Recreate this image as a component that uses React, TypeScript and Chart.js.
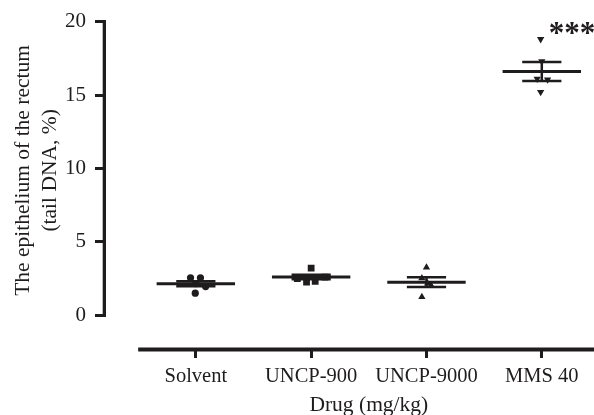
import React, { useEffect, useRef } from "react";
import { Chart, registerables } from "chart.js";

Chart.register(...registerables);

// ---------- data ----------
const categories = ["Solvent", "UNCP-900", "UNCP-9000", "MMS 40"];

const solventValues = [2.55, 2.55, 2.15, 1.95, 1.5];
const solventJitter = [-0.046, 0.04, 0.0, 0.085, -0.005];

const uncp900Values = [3.2, 2.5, 2.25, 2.3, 2.6];
const uncp900Jitter = [0.0, -0.12, -0.04, 0.035, 0.12];

const uncp9000Values = [3.26, 2.52, 2.16, 2.03, 1.24];
const uncp9000Jitter = [0.0, -0.04, 0.01, 0.04, -0.04];

const mms40Values = [18.8, 17.3, 16.1, 16.05, 15.2];
const mms40Jitter = [-0.01, 0.0, -0.04, 0.05, -0.01];

const groupMeans = [2.14, 2.6, 2.25, 16.6];
const groupSems = [0.17, 0.15, 0.33, 0.64];
const significance = ["", "", "", "***"];

const yTicks = [0, 5, 10, 15, 20];
const xTitle = "Drug (mg/kg)";
const yTitleLines = ["The epithelium of the rectum", "(tail DNA, %)"];

// ---------- style ----------
const INK = "#1f1c1d";
const FONT = "'Liberation Serif', 'Times New Roman', serif";
const MEAN_HALF = 0.34;
const SEM_HALF = 0.17;

function groupPoints(values: number[], jitter: number[], idx: number) {
  return values.map((v, k) => ({ x: idx + jitter[k], y: v }));
}

function meanLineData() {
  const out: any[] = [];
  groupMeans.forEach((m, i) => {
    out.push({ x: i - MEAN_HALF, y: m }, { x: i + MEAN_HALF, y: m }, { x: i, y: null });
  });
  return out;
}

function semLineData() {
  const out: any[] = [];
  groupMeans.forEach((m, i) => {
    const s = groupSems[i];
    out.push({ x: i - SEM_HALF, y: m + s }, { x: i + SEM_HALF, y: m + s }, { x: i, y: null });
    out.push({ x: i - SEM_HALF, y: m - s }, { x: i + SEM_HALF, y: m - s }, { x: i, y: null });
    out.push({ x: i, y: m - s }, { x: i, y: m + s }, { x: i, y: null });
  });
  return out;
}

const decorPlugin = {
  id: "decor",
  afterDraw(chart: any) {
    const { ctx, chartArea } = chart;
    const x = chart.scales.x;
    const y = chart.scales.y;
    ctx.save();
    ctx.strokeStyle = INK;
    ctx.fillStyle = INK;
    ctx.lineCap = "butt";

    // y axis line (0..20)
    ctx.lineWidth = 3.3;
    const yAxisX = chartArea.left - 1.65;
    ctx.beginPath();
    ctx.moveTo(yAxisX, y.getPixelForValue(yTicks[yTicks.length - 1]) - 1.5);
    ctx.lineTo(yAxisX, y.getPixelForValue(yTicks[0]) + 1.5);
    ctx.stroke();

    // x axis line
    ctx.lineWidth = 4;
    const xAxisY = chartArea.bottom + 2;
    ctx.beginPath();
    ctx.moveTo(x.getPixelForValue(-0.5), xAxisY);
    ctx.lineTo(chart.width, xAxisY);
    ctx.stroke();

    // x title
    ctx.font = `21.5px ${FONT}`;
    ctx.textAlign = "center";
    ctx.textBaseline = "middle";
    const cx = (x.getPixelForValue(-0.5) + x.getPixelForValue(categories.length - 0.5)) / 2;
    ctx.fillText(xTitle, cx, 405);

    // y title
    const cy = (y.getPixelForValue(yTicks[0]) + y.getPixelForValue(yTicks[yTicks.length - 1])) / 2 + 2;
    ctx.save();
    ctx.translate(0, cy);
    ctx.rotate(-Math.PI / 2);
    ctx.fillText(yTitleLines[0], 0, 23);
    ctx.fillText(yTitleLines[1], 0, 50);
    ctx.restore();

    // significance markers
    ctx.font = `bold 31px ${FONT}`;
    ctx.textAlign = "left";
    ctx.textBaseline = "alphabetic";
    const maxima = [solventValues, uncp900Values, uncp9000Values, mms40Values].map((a) => Math.max(...a));
    significance.forEach((s, i) => {
      if (!s) return;
      ctx.fillText(s, x.getPixelForValue(i) + 7, y.getPixelForValue(maxima[i]) + 4);
    });
    ctx.restore();
  },
};

export default function App() {
  const ref = useRef<HTMLCanvasElement | null>(null);

  useEffect(() => {
    if (!ref.current) return;
    const pointBase = {
      type: "scatter" as const,
      backgroundColor: INK,
      borderColor: INK,
      borderWidth: 0,
      showLine: false,
      order: 0,
    };
    const chart = new Chart(ref.current, {
      type: "scatter",
      data: {
        datasets: [
          {
            label: "mean",
            data: meanLineData(),
            showLine: true,
            borderColor: INK,
            borderWidth: 3,
            pointRadius: 0,
            spanGaps: false,
            order: 2,
          } as any,
          {
            label: "sem",
            data: semLineData(),
            showLine: true,
            borderColor: INK,
            borderWidth: 2.5,
            pointRadius: 0,
            spanGaps: false,
            order: 2,
          } as any,
          { ...pointBase, label: categories[0], data: groupPoints(solventValues, solventJitter, 0), pointStyle: "circle", pointRadius: 3.6 },
          { ...pointBase, label: categories[1], data: groupPoints(uncp900Values, uncp900Jitter, 1), pointStyle: "rect", pointRadius: 4.8 },
          { ...pointBase, label: categories[2], data: groupPoints(uncp9000Values, uncp9000Jitter, 2), pointStyle: "triangle", pointRadius: 4.2 },
          { ...pointBase, label: categories[3], data: groupPoints(mms40Values, mms40Jitter, 3), pointStyle: "triangle", rotation: 180, pointRadius: 4.2 },
        ],
      },
      options: {
        responsive: false,
        animation: false,
        devicePixelRatio: 1,
        layout: { padding: { top: 19, right: 0, left: 0, bottom: 0 } },
        plugins: { legend: { display: false }, tooltip: { enabled: false } },
        scales: {
          x: {
            type: "linear",
            min: -0.779,
            max: 3.411,
            afterFit: (s: any) => {
              s.height = 67.5;
            },
            afterBuildTicks: (s: any) => {
              s.ticks = categories.map((_, i) => ({ value: i }));
            },
            border: { display: false },
            grid: {
              drawOnChartArea: false,
              drawTicks: true,
              tickLength: 10.5,
              tickWidth: 3,
              tickColor: INK,
              color: INK,
            },
            ticks: {
              autoSkip: false,
              maxRotation: 0,
              padding: 6.5,
              color: INK,
              font: { family: FONT, size: 20.5 },
              callback: (v: any) => categories[Math.round(Number(v))] ?? "",
            },
          },
          y: {
            type: "linear",
            min: -2.2,
            max: 20,
            afterFit: (s: any) => {
              s.width = 106;
            },
            afterBuildTicks: (s: any) => {
              s.ticks = yTicks.map((v) => ({ value: v }));
            },
            border: { display: false },
            grid: {
              drawOnChartArea: false,
              drawTicks: true,
              tickLength: 11,
              tickWidth: 3,
              tickColor: INK,
              color: INK,
            },
            ticks: {
              padding: 9,
              color: INK,
              font: { family: FONT, size: 21 },
            },
          },
        },
      },
      plugins: [decorPlugin],
    } as any);
    return () => chart.destroy();
  }, []);

  return (
    <canvas
      ref={ref}
      width={594}
      height={415}
      style={{ position: "fixed", left: 0, top: 0, width: 594, height: 415, display: "block", background: "#fff" }}
    />
  );
}
